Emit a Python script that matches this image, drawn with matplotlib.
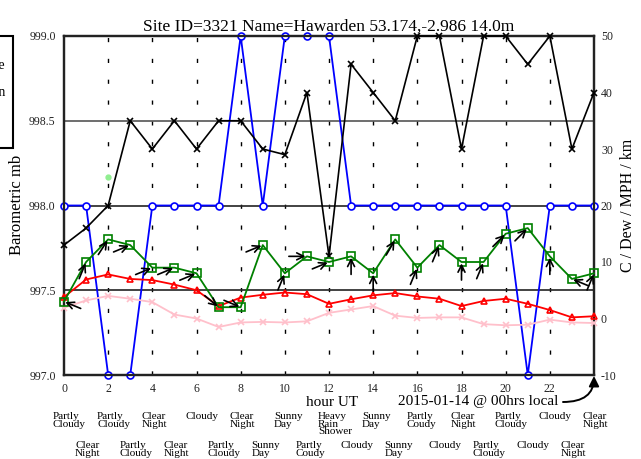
import math

import matplotlib

matplotlib.use("Agg")
import matplotlib.pyplot as plt  # noqa: E402
from matplotlib.patches import FancyArrowPatch, Rectangle  # noqa: E402
from matplotlib.transforms import blended_transform_factory  # noqa: E402

plt.rcParams["font.family"] = ["Liberation Serif", "DejaVu Serif"]
plt.rcParams["axes.unicode_minus"] = False

HOURS = list(range(25))
PRESSURE_MB = [998, 998, 997, 997, 998, 998, 998, 998, 999, 998, 999, 999, 999,
               998, 998, 998, 998, 998, 998, 998, 998, 997, 998, 998, 998]
VISIBILITY = [13, 16, 20, 35, 30, 35, 30, 35, 35, 30, 29, 40, 11,
              45, 40, 35, 50, 50, 30, 50, 50, 45, 50, 30, 40]
WIND_MPH = [3, 10, 14, 13, 9, 9, 8, 2, 2, 13, 8, 11, 10,
            11, 8, 14, 9, 13, 10, 10, 15, 16, 11, 7, 8]
WIND_FROM_DEG = [112.5, 202.5, 213, 247.5, 247.5, 247.5, 247.5, 310, 292.5, 247.5,
                 202.5, 270, 247.5, 180, 180, 210, 202.5, 202.5, 180, 202.5,
                 225, 225, 180, 112.5, 202.5]
TEMP_C = [3.8, 6.9, 7.8, 7.0, 6.8, 6.0, 5.0, 2.2, 3.7, 4.2, 4.6, 4.3, 2.6,
          3.4, 4.1, 4.5, 3.9, 3.5, 2.2, 3.1, 3.5, 2.6, 1.5, 0.2, 0.4]
DEW_C = [1.9, 3.2, 4.0, 3.5, 2.9, 0.7, 0.0, -1.5, -0.7, -0.6, -0.7, -0.5, 1.0,
         1.6, 2.2, 0.5, 0.1, 0.2, 0.2, -1.0, -1.2, -1.1, -0.2, -0.7, -0.8]
GUST_HOURS = [2]
GUST_MPH = [25]
WEATHER = [
    "Partly\nCloudy", "Clear\nNight", "Partly\nCloudy", "Partly\nCloudy",
    "Clear\nNight", "Clear\nNight", "Cloudy", "Partly\nCloudy", "Clear\nNight",
    "Sunny\nDay", "Sunny\nDay", "Partly\nCoudy", "Heavy\nRain\nShower", "Cloudy",
    "Sunny\nDay", "Sunny\nDay", "Partly\nCoudy", "Cloudy", "Clear\nNight",
    "Partly\nCloudy", "Partly\nCloudy", "Cloudy", "Cloudy", "Clear\nNight",
    "Clear\nNight",
]
TITLE = "Site ID=3321 Name=Hawarden 53.174,-2.986 14.0m"

W, H = 641, 459
fig = plt.figure(figsize=(W / 100, H / 100), dpi=100)
ax = fig.add_axes([64 / W, 1 - 375 / H, 530 / W, 339 / H])
ax.set_xlim(0, 24)
ax.set_ylim(997.0, 999.0)
ax.set_xticks(range(0, 24, 2))
ax.set_yticks([997.0, 997.5, 998.0, 998.5, 999.0])
ax.set_yticklabels(["997.0", "997.5", "998.0", "998.5", "999.0"])
ax.tick_params(length=0, labelsize=8.5, pad=6, colors="#222222")

for hour in range(2, 24, 2):
    ax.axvline(hour, color="black", lw=1.0, linestyle=(0, (3, 12)), zorder=1)
ax.axhline(998.5, color="#555555", lw=1.2, zorder=1)
ax.axhline(998.0, color="#222222", lw=1.2, zorder=1)
ax.axhline(997.5, color="#222222", lw=1.2, zorder=1)

ax.plot(HOURS, PRESSURE_MB, color="blue", lw=1.3, marker="o", ms=5,
        mfc="white", mec="blue", mew=1.2, clip_on=False, zorder=3)

ax2 = ax.twinx()
ax2.set_ylim(-10, 50)
ax2.set_yticks(range(-10, 51, 10))
ax2.tick_params(length=0, labelsize=8.5, pad=5, colors="#222222")

ax2.plot(HOURS, VISIBILITY, color="black", lw=1.2, marker="x", ms=5, mew=1.2,
         clip_on=False, zorder=4)
ax2.plot(HOURS, DEW_C, color="pink", lw=1.3, marker="x", ms=5, mew=1.2,
         clip_on=False, zorder=3)
ax2.plot(HOURS, TEMP_C, color="red", lw=1.3, marker="^", ms=5, mfc="none",
         mew=1.2, clip_on=False, zorder=3)
ax2.plot(HOURS, WIND_MPH, color="green", lw=1.3, marker="s", ms=5.5, mfc="none",
         mew=1.2, clip_on=False, zorder=4)
ax2.plot(GUST_HOURS, GUST_MPH, linestyle="none", marker="o", ms=3.5,
         color="#90ee90", zorder=3)

arrow_len = 13
for hour, speed, deg in zip(HOURS, WIND_MPH, WIND_FROM_DEG):
    rad = math.radians(deg)
    ax2.annotate(
        "",
        xy=(hour, speed),
        xytext=(arrow_len * math.sin(rad), arrow_len * math.cos(rad)),
        textcoords="offset points",
        arrowprops=dict(arrowstyle="->,head_length=0.5,head_width=0.25",
                        color="black", lw=1.2, shrinkA=0, shrinkB=1),
        annotation_clip=False,
        zorder=5,
    )

for spine_ax in (ax, ax2):
    for spine in spine_ax.spines.values():
        spine.set_linewidth(1.6)
        spine.set_color("#222222")

ax.set_title(TITLE, fontsize=12.5, pad=4)

fig.text(17 / W, 1 - 205 / H, "Barometric mb", rotation=90, ha="center",
         va="center", fontsize=12)
fig.text(628 / W, 1 - 205 / H, "C / Dew / MPH / km", rotation=90, ha="center",
         va="center", fontsize=11.5)
fig.text(332 / W, 1 - 403 / H, "hour UT", ha="center", va="center", fontsize=11)
fig.text(558 / W, 1 - 402 / H, "2015-01-14 @ 00hrs local", ha="right",
         va="center", fontsize=11)
fig.add_artist(FancyArrowPatch(
    (563 / W, 1 - 402 / H), (594 / W, 1 - 376 / H),
    transform=fig.transFigure,
    connectionstyle="angle3,angleA=0,angleB=90",
    arrowstyle="-|>,head_length=6,head_width=3",
    color="black", lw=1.4, shrinkA=0, shrinkB=0,
))

trans = blended_transform_factory(ax.transData, fig.transFigure)
for hour, label in zip(HOURS, WEATHER):
    top = 412 if hour % 2 == 0 else 441
    ax.text(hour - 0.5, 1 - top / H, label, transform=trans, ha="left",
            va="top", fontsize=8, linespacing=0.8, clip_on=False)

# legend box mostly outside the canvas on the left
fig.add_artist(Rectangle((-0.05, 1 - 148 / H), 0.05 + 13 / W, 112 / H,
                         transform=fig.transFigure, fill=False, lw=1.5,
                         edgecolor="black"))
fig.text(5 / W, 1 - 66 / H, "Temperature", ha="right", va="center", fontsize=10)
fig.text(5 / W, 1 - 93 / H, "Wind Direction", ha="right", va="center", fontsize=10)

fig.savefig("out.png", dpi=100)
